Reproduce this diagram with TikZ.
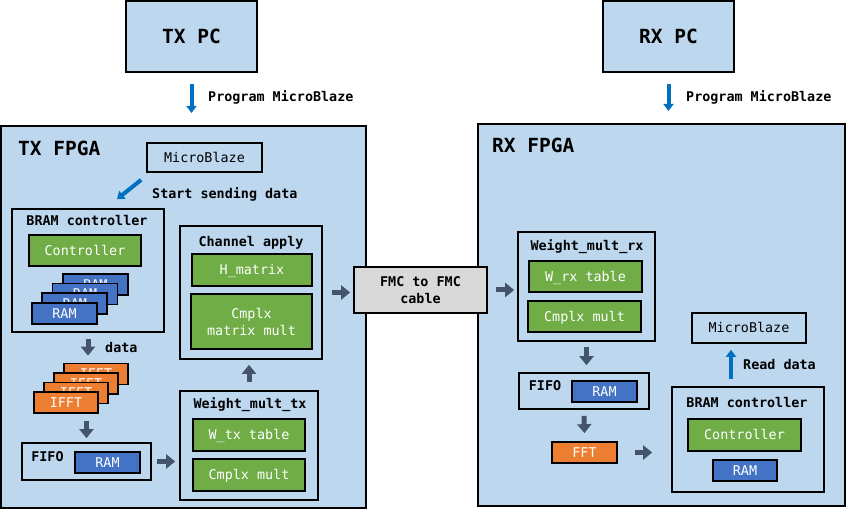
\documentclass[tikz,border=0pt]{standalone}
\usepackage{fontspec}
\setmainfont{DejaVu Sans Mono}
\usetikzlibrary{arrows.meta}
\definecolor{lb}{HTML}{BDD7EE}
\definecolor{grn}{HTML}{70AD47}
\definecolor{bl}{HTML}{4472C4}
\definecolor{org}{HTML}{ED7D31}
\definecolor{dk}{HTML}{44546A}
\definecolor{ab}{HTML}{0070C0}
\definecolor{gr}{HTML}{D9D9D9}
\tikzset{
  bx/.style 2 args={draw=black, line width=1.7pt, inner sep=0pt, minimum width=#1pt, minimum height=#2pt, font=\fontsize{13.4}{17}\selectfont},
  capht/.style={text height=9.7pt, text depth=0pt},
  cont/.style={fill=lb},
  gbox/.style={fill=grn, text=white, capht},
  rbox/.style={fill=bl, text=white, capht},
  obox/.style={fill=org, text=white, capht},
  ttl/.style={font=\bfseries\fontsize{13.4}{17}\selectfont, inner sep=0pt, capht},
  big/.style={font=\bfseries\fontsize{19.5}{22}\selectfont, inner sep=0pt, text height=14.2pt, text depth=0pt},
  dkarrow/.style={draw=dk, line width=5pt, -{Triangle[width=14pt,length=9pt]}},
  blarrow/.style={draw=ab, line width=4pt, -{Triangle[width=10pt,length=7pt]}},
}
\begin{document}
\begin{tikzpicture}[x=1pt,y=-1pt]
\useasboundingbox (0,0) rectangle (847,510);
% PCs
\node[bx={131}{71}, cont, line width=2pt, big] (txpc) at (191.5,36.5) {TX PC};
\node[bx={131}{71}, cont, line width=2pt, big] (rxpc) at (668.5,36.5) {RX PC};
% FPGAs
\node[bx={365}{382}, cont, line width=2pt] (txf) at (183.5,317) {};
\node[bx={367}{382}, cont, line width=2pt] (rxf) at (661.5,315) {};
\node[big, anchor=west] (txft) at (18,148) {TX FPGA};
\node[big, anchor=west] (rxft) at (492,145) {RX FPGA};
% TX side
\node[bx={115}{29}, cont, capht] (mbtx) at (204.5,157.5) {MicroBlaze};
\node[bx={152}{123}, cont] (bramtx) at (88,270.5) {};
\node[ttl] (bramtxt) at (87,221) {BRAM controller};
\node[bx={112}{31}, gbox] (ctrltx) at (85,250.5) {Controller};
\foreach \k in {3,2,1,0}{
  \node[bx={65}{21}, rbox] (ramtx\k) at ({64.5+10.3*\k},{313.5-9.7*\k}) {RAM};
}
\node[bx={142}{133}, cont] (chan) at (251,292.5) {};
\node[ttl] (chant) at (251,242) {Channel apply};
\node[bx={120}{32}, gbox] (hmat) at (252,270) {H\_matrix};
\node[bx={121}{55}, fill=grn, text=white, align=center] (cmm) at (251.5,321.5) {Cmplx\\matrix mult};
\node[bx={138}{109}, cont] (wtx) at (249,445.5) {};
\node[ttl] (wtxt) at (250,404) {Weight\_mult\_tx};
\node[bx={112}{32}, gbox] (wtxtab) at (249,435) {W\_tx table};
\node[bx={112}{32}, gbox] (cmtx) at (249,475) {Cmplx mult};
\foreach \k in {3,2,1,0}{
  \node[bx={64}{21}, obox] (ifft\k) at ({66+10*\k},{402.5-9.5*\k}) {IFFT};
}
\node[bx={129}{37}, cont] (fifotx) at (86.5,461.5) {};
\node[ttl] (fifotxt) at (47.5,457) {FIFO};
\node[bx={65}{21}, rbox] (ramfifotx) at (107.5,462.5) {RAM};
% RX side
\node[bx={137}{109}, cont] (wrx) at (586.5,286.5) {};
\node[ttl] (wrxt) at (587,246) {Weight\_mult\_rx};
\node[bx={113}{31}, gbox] (wrxtab) at (585.5,276.5) {W\_rx table};
\node[bx={113}{31}, gbox] (cmrx) at (584.5,316.5) {Cmplx mult};
\node[bx={130}{36}, cont] (fiforx) at (584,391) {};
\node[ttl] (fiforxt) at (545,386) {FIFO};
\node[bx={65}{21}, rbox] (ramfiforx) at (604.5,391.5) {RAM};
\node[bx={65}{21}, obox] (fft) at (584.5,452.5) {FFT};
\node[bx={152}{105}, cont] (bramrx) at (748,439.5) {};
\node[ttl] (bramrxt) at (747,403) {BRAM controller};
\node[bx={113}{32}, gbox] (ctrlrx) at (744.5,435) {Controller};
\node[bx={64}{21}, rbox] (ramrx) at (745,470.5) {RAM};
\node[bx={114}{30}, cont, capht] (mbrx) at (749,328) {MicroBlaze};
% cable
\node[bx={133}{46}, fill=gr, align=center, font=\bfseries\fontsize{13.4}{17}\selectfont] (cable) at (420.5,290) {FMC to FMC\\cable};
% connectors
\draw[blarrow] ([yshift=-11pt]txpc.south) -- ([yshift=12pt]txpc.south |- txf.north);
\node[ttl, anchor=west] (l1) at (208,97) {Program MicroBlaze};
\draw[blarrow] ([yshift=-11pt]rxpc.south) -- ([yshift=12pt]rxpc.south |- rxf.north);
\node[ttl, anchor=west] (l2) at (686,97) {Program MicroBlaze};
\draw[blarrow] ([shift={(-5pt,-7pt)}]mbtx.south west) -- ([shift={(29pt,9pt)}]bramtx.north);
\node[ttl, anchor=west] (l3) at (152,194) {Start sending data};
\draw[dkarrow] ([yshift=-6pt]bramtx.south) -- ([yshift=7pt]bramtx.south |- ifft3.north);
\node[ttl, anchor=west] (l4) at (105,348) {data};
\draw[dkarrow] ([yshift=-7pt]fifotx.north |- ifft0.south) -- ([yshift=4pt]fifotx.north);
\draw[dkarrow] ([xshift=5pt]fifotx.east) -- ([xshift=-4pt]fifotx.east -| wtx.west);
\draw[dkarrow] ([yshift=8pt]wtx.north) -- ([yshift=-5pt]wtx.north |- chan.south);
\draw[dkarrow] ([xshift=9pt]chan.east) -- ([xshift=-3pt]chan.east -| cable.west);
\draw[dkarrow] ([xshift=8pt]cable.east) -- ([xshift=-3pt]cable.east -| wrx.west);
\draw[dkarrow] ([yshift=-5pt]wrx.south) -- ([yshift=7pt]wrx.south |- fiforx.north);
\draw[dkarrow] ([yshift=-6pt]fiforx.south) -- ([yshift=8pt]fft.north);
\draw[dkarrow] ([xshift=17pt]fft.east) -- ([xshift=-19pt]fft.east -| bramrx.west);
\draw[blarrow] ([shift={(-17pt,7pt)}]bramrx.north) -- ([shift={(-18pt,-6pt)}]mbrx.south);
\node[ttl, anchor=west] (l5) at (743,365) {Read data};
\end{tikzpicture}
\end{document}
